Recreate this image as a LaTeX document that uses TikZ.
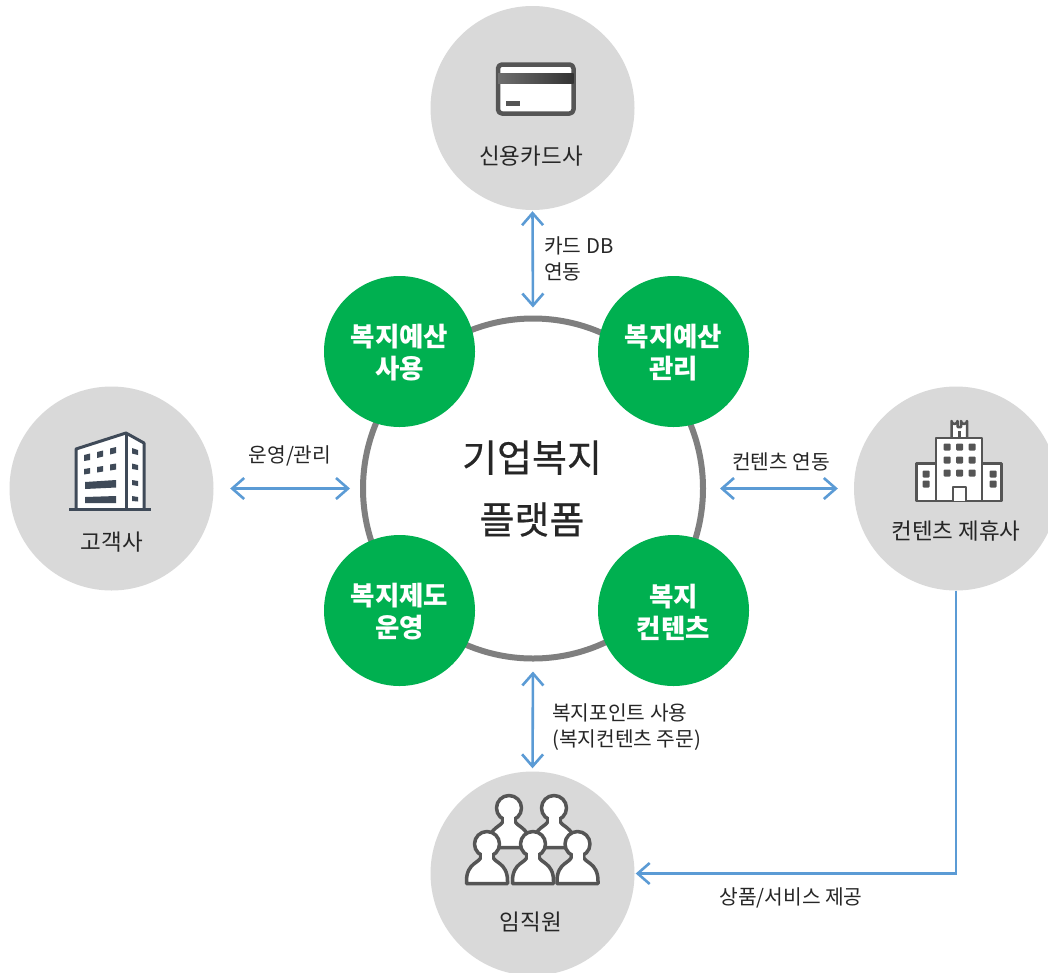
\documentclass[tikz,border=0pt]{standalone}
\usepackage{fontspec}
\setmainfont{Noto Sans CJK KR}
\newfontfamily\hubfont[FakeBold=0.4]{Noto Sans CJK KR}
\usetikzlibrary{arrows.meta}
\definecolor{disc}{HTML}{D9D9D9}
\definecolor{leaf}{HTML}{00B050}
\definecolor{ringc}{HTML}{7F7F7F}
\definecolor{flow}{HTML}{5B9BD5}
\definecolor{ink}{HTML}{262626}
\definecolor{icong}{HTML}{555555}
\definecolor{navy}{HTML}{3F4A58}
\tikzset{
  x=1pt,y=-1pt,
  party/.style={circle,fill=disc,minimum size=204pt,inner sep=0pt},
  module/.style={circle,fill=leaf,minimum size=151pt,inner sep=0pt},
  moduletext/.style={text=white,font=\fontsize{26.5}{32}\selectfont\bfseries,align=center,inner sep=0pt},
  hub/.style={circle,draw=ringc,line width=6pt,minimum size=340pt,inner sep=0pt},
  partyname/.style={text=ink,font=\fontsize{22.5}{26}\selectfont,inner sep=0pt},
  flownote/.style={text=ink,font=\fontsize{20.3}{26}\selectfont,inner sep=0pt,align=left},
  hubtext/.style={text=ink,font=\hubfont\fontsize{38}{62}\selectfont,align=center,inner sep=0pt},
  twoway/.style={draw=flow,line width=2.6pt,{Straight Barb[length=12pt,width=21pt,line width=2.6pt]}-{Straight Barb[length=12pt,width=21pt,line width=2.6pt]}},
  oneway/.style={draw=flow,line width=2.6pt,-{Straight Barb[length=12pt,width=21pt,line width=2.6pt]}},
  iconline/.style={draw=icong,line width=3.5pt,fill=white,line join=round},
  blockline/.style={draw=navy,line width=3pt,fill=white,line join=round},
  pane/.style={fill=navy,draw=none},
}
\newcommand{\staffperson}[2]{%
  \begin{scope}[shift={(#1,#2)}]
    \draw[iconline] (-6,12) .. controls (-6,19) and (-20.5,18) .. (-20.5,37) -- (-20.5,39.5) -- (20.5,39.5) -- (20.5,37) .. controls (20.5,18) and (6,19) .. (6,12) -- cycle;
    \draw[iconline] (0,0) circle (12.5);
    \fill[white] (-5,8) rectangle (5,16);
  \end{scope}}
\begin{document}
\begin{tikzpicture}
\useasboundingbox (0,0) rectangle (1048,972);
\fill[white] (0,0) rectangle (1048,972);

% outer parties
\node[party] (card) at (532.5,108) {};
\node[party] (client) at (111.5,488.5) {};
\node[party] (partner) at (956,488.5) {};
\node[party] (staff) at (532.5,873.5) {};

% hub ring and modules
\node[hub] (ring) at (533,488.5) {};
\node[module] (m1) at (399.5,351.5) {};
\node[module] (m2) at (673.5,351.5) {};
\node[module] (m3) at (399.5,610.5) {};
\node[module] (m4) at (673.5,610.5) {};
\node[moduletext,yshift=-1.5pt] (t1) at (m1) {복지예산\\사용};
\node[moduletext,yshift=-1.5pt] (t2) at (m2) {복지예산\\관리};
\node[moduletext,yshift=-1.5pt] (t3) at (m3) {복지제도\\운영};
\node[moduletext,yshift=-1.5pt] (t4) at (m4) {복지\\컨텐츠};
\node[hubtext] (hubtitle) at (532,488.5) {기업복지\\플랫폼};

% card icon
\draw[iconline,line width=4.5pt,rounded corners=4pt] (498,64.5) rectangle (573.5,113.5);
\shade[left color=icong!85,right color=black!80] (498,73) rectangle (573.5,83);
\fill[icong] (505.5,101) rectangle (519.5,106);

% building icon
\draw[blockline] (76,509) -- (76,449) -- (126,433) -- (144,443) -- (144,509);
\draw[draw=navy,line width=3pt] (126,433) -- (126,509);
\draw[draw=navy,line width=2.5pt] (69,509.5) -- (151,509.5);
\fill[pane] (84,455) -- (90,453.5) -- (90,460) -- (84,461) -- cycle;
\fill[pane] (97,452) -- (103,450.5) -- (103,456.5) -- (97,458) -- cycle;
\fill[pane] (110,448.5) -- (116,447) -- (116,453) -- (110,454.5) -- cycle;
\fill[pane] (84,469) -- (90,468) -- (90,473.5) -- (84,474.5) -- cycle;
\fill[pane] (97,467) -- (103,466) -- (103,471.5) -- (97,472.5) -- cycle;
\fill[pane] (110,464.5) -- (116,463.5) -- (116,469.5) -- (110,470.5) -- cycle;
\fill[pane] (85,482) -- (116,480) -- (116,487.5) -- (85,489) -- cycle;
\fill[pane] (85,497) -- (116,496) -- (116,503) -- (85,503) -- cycle;
\fill[pane] (132,448) -- (138,450) -- (138,455) -- (132,453.5) -- cycle;
\fill[pane] (132,463.5) -- (138,465) -- (138,470) -- (132,469) -- cycle;
\fill[pane] (132,480) -- (138,481) -- (138,486) -- (132,485) -- cycle;
\fill[pane] (132,496) -- (138,497) -- (138,501.5) -- (132,501) -- cycle;

% partner icon
\draw[icong,line width=2.5pt,fill=white,line join=round] (951.5,437) -- (951.5,421) arc[start angle=180,end angle=0,radius=3] -- (957.5,427) -- (961,427) -- (961,421) arc[start angle=180,end angle=0,radius=3] -- (967,437);
\fill[icong] (957.5,431) rectangle (961,437);
\draw[iconline,line width=2.8pt] (916.5,463.5) rectangle (936,501);
\draw[iconline,line width=2.8pt] (982,463.5) rectangle (1001.5,501);
\draw[iconline,line width=2.8pt] (936,438) rectangle (982,501);
\draw[iconline,line width=2.8pt] (953,501) -- (953,487) -- (966,487) -- (966,501);
\foreach \px in {947,959.5,972}{\foreach \py in {447,460,473}{\fill[icong,rounded corners=1pt] (\px-3.5,\py-3.5) rectangle (\px+3.5,\py+3.5);}}
\foreach \px in {926,993}{\foreach \py in {474,484}{\fill[icong,rounded corners=1pt] (\px-3.5,\py-3.5) rectangle (\px+3.5,\py+3.5);}}

% staff icon
\staffperson{509}{808}
\staffperson{554}{808}
\staffperson{487}{844}
\staffperson{577.5}{844}
\staffperson{533}{844}

% party names
\node[partyname] (cardname) at (531,156) {신용카드사};
\node[partyname] (clientname) at (112,542) {고객사};
\node[partyname] (partnername) at (956,531) {컨텐츠 제휴사};
\node[partyname] (staffname) at (531,922) {임직원};

% connectors
\draw[twoway,shorten <=1pt,shorten >=8pt] (card.south) -- (ring.north);
\draw[twoway,shorten <=16.5pt,shorten >=10pt] (client.east) -- (ring.west);
\draw[twoway,shorten <=14pt,shorten >=16pt] (ring.east) -- (partner.west);
\draw[twoway,shorten <=10pt,shorten >=3pt] (ring.south) -- (staff.north);
\draw[oneway,shorten >=1pt] (partner.south) |- (staff.east);

% connector labels
\node[flownote,anchor=west] (l1) at (544,259) {카드 DB\\연동};
\node[flownote] (l2) at (290,456) {운영/관리};
\node[flownote] (l3) at (781,462) {컨텐츠 연동};
\node[flownote,anchor=west] (l4) at (552,727) {복지포인트 사용\\(복지컨텐츠 주문)};
\node[flownote] (l5) at (791,898) {상품/서비스 제공};
\end{tikzpicture}
\end{document}
